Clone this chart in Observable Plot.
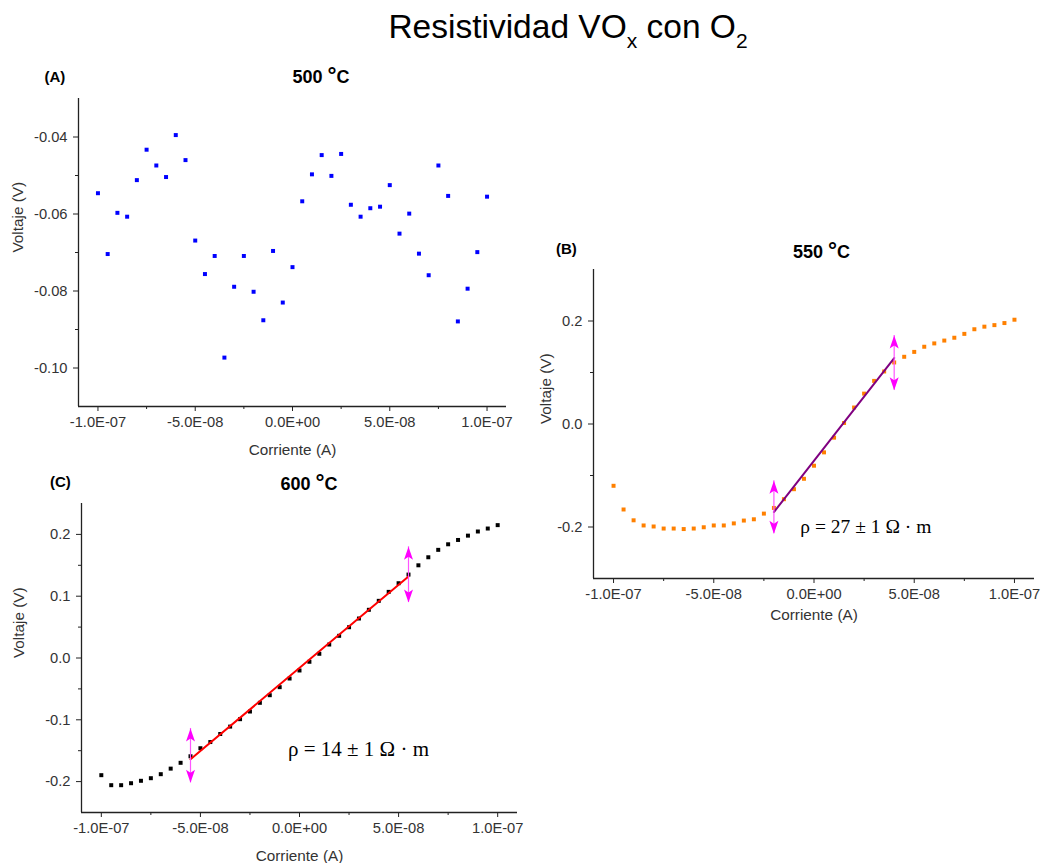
<!DOCTYPE html>
<html><head><meta charset="utf-8">
<script src="https://cdn.jsdelivr.net/npm/d3@7"></script>
<script src="https://cdn.jsdelivr.net/npm/@observablehq/plot@0.6"></script>
<style>
body{margin:0;background:#fff;}
#page{position:relative;width:1045px;height:863px;background:#fff;font-family:"Liberation Sans",Arial,sans-serif;overflow:hidden;}
.abs{position:absolute;white-space:nowrap;line-height:1;color:#000;}
.wrap{position:absolute;}
</style></head><body><div id="page"></div>
<script>
// ---------------- DATA ----------------
const current = [-1.0e-7,-9.5e-8,-9.0e-8,-8.5e-8,-8.0e-8,-7.5e-8,-7.0e-8,-6.5e-8,-6.0e-8,-5.5e-8,-5.0e-8,-4.5e-8,-4.0e-8,-3.5e-8,-3.0e-8,-2.5e-8,-2.0e-8,-1.5e-8,-1.0e-8,-5.0e-9,0,5.0e-9,1.0e-8,1.5e-8,2.0e-8,2.5e-8,3.0e-8,3.5e-8,4.0e-8,4.5e-8,5.0e-8,5.5e-8,6.0e-8,6.5e-8,7.0e-8,7.5e-8,8.0e-8,8.5e-8,9.0e-8,9.5e-8,1.0e-7];

const voltage500 = [-0.0546,-0.0704,-0.0597,-0.0607,-0.0512,-0.0433,-0.0474,-0.0504,-0.0395,-0.0460,-0.0669,-0.0756,-0.0709,-0.0973,-0.0789,-0.0709,-0.0802,-0.0876,-0.0696,-0.0830,-0.0738,-0.0567,-0.0497,-0.0447,-0.0501,-0.0444,-0.0576,-0.0607,-0.0585,-0.0581,-0.0525,-0.0651,-0.0599,-0.0703,-0.0759,-0.0474,-0.0553,-0.0879,-0.0794,-0.0699,-0.0555];

const voltage550 = [-0.120,-0.166,-0.187,-0.197,-0.199,-0.203,-0.203,-0.204,-0.203,-0.2005,-0.197,-0.197,-0.193,-0.1875,-0.185,-0.174,-0.163,-0.146,-0.1266,-0.1064,-0.081,-0.0551,-0.0265,0.002,0.032,0.059,0.0837,0.102,0.1195,0.1305,0.140,0.150,0.1565,0.162,0.1675,0.175,0.184,0.189,0.192,0.196,0.2025];

const voltage600 = [-0.1896,-0.2058,-0.2058,-0.2026,-0.1987,-0.1945,-0.188,-0.179,-0.1696,-0.159,-0.146,-0.136,-0.123,-0.111,-0.099,-0.0866,-0.0725,-0.0602,-0.0472,-0.0332,-0.0202,-0.0061,0.0068,0.0218,0.0359,0.0498,0.0639,0.078,0.0925,0.107,0.121,0.135,0.150,0.163,0.175,0.184,0.191,0.198,0.2047,0.2095,0.215];

// linear fits (endpoints of fitted range)
const fitCurrent550 = [-2.0e-8, 4.0e-8];
const fitVoltage550 = [-0.171, 0.128];
const fitCurrent600 = [-5.5e-8, 5.5e-8];
const fitVoltage600 = [-0.164, 0.132];

// range markers (double arrows)
const markCurrent550 = [-2.0e-8, 4.0e-8];
const markLow550 = [-0.213, 0.0656];
const markHigh550 = [-0.110, 0.172];
const markCurrent600 = [-5.5e-8, 5.5e-8];
const markLow600 = [-0.202, 0.090];
const markHigh600 = [-0.114, 0.180];

// annotations
const rhoText550 = "ρ = 27 ± 1 Ω · m";
const rhoAt550 = [-6.8e-9, -0.199];
const rhoText600 = "ρ = 14 ± 1 Ω · m";
const rhoAt600 = [-5.8e-9, -0.148];

// axes
const xDomain = [-1.1e-7, 1.1e-7];
const xTicks = [-1.0e-7, -5.0e-8, 0, 5.0e-8, 1.0e-7];
const xTickLabels = ["-1.0E-07", "-5.0E-08", "0.0E+00", "5.0E-08", "1.0E-07"];
const xMinorTicks = [-7.5e-8, -2.5e-8, 2.5e-8, 7.5e-8];

const yDomain500 = [-0.11, -0.03];
const yTicks500 = [-0.10, -0.08, -0.06, -0.04];
const yTickLabels500 = ["-0.10", "-0.08", "-0.06", "-0.04"];
const yMinor500 = [-0.09, -0.07, -0.05];

const yDomain550 = [-0.3, 0.3];
const yTicks550 = [-0.2, 0, 0.2];
const yTickLabels550 = ["-0.2", "0.0", "0.2"];
const yMinor550 = [-0.1, 0.1];

const yDomain600 = [-0.25, 0.25];
const yTicks600 = [-0.2, -0.1, 0, 0.1, 0.2];
const yTickLabels600 = ["-0.2", "-0.1", "0.0", "0.1", "0.2"];
const yMinor600 = [-0.15, -0.05, 0.05, 0.15];

const xLabel = "Corriente (A)";
const yLabel = "Voltaje (V)";

// ---------------- DRAWING ----------------
const page = document.getElementById("page");
const axisColor = "#222";
const textColor = "#333";
const tickFont = 14.7;
const labelFont = 15.3;

const headUp = {draw(ctx) { ctx.moveTo(0, 0); ctx.lineTo(4.5, 13); ctx.lineTo(0, 10); ctx.lineTo(-4.5, 13); ctx.closePath(); }};
const headDown = {draw(ctx) { ctx.moveTo(0, 0); ctx.lineTo(4.5, -13); ctx.lineTo(0, -10); ctx.lineTo(-4.5, -13); ctx.closePath(); }};

function fitMarks(fx, fy, color, mx, lo, hi, rhoText, rhoAt, rhoSize) {
  const fit = fx.map((c, i) => ({current: c, voltage: fy[i]}));
  const mk = mx.map((c, i) => ({current: c, lo: lo[i], hi: hi[i]}));
  return [
    Plot.line(fit, {x: "current", y: "voltage", stroke: color, strokeWidth: 2}),
    Plot.ruleX(mk, {x: "current", y1: "lo", y2: "hi", stroke: "#ff55ff", strokeWidth: 1.2}),
    Plot.dot(mk, {x: "current", y: "hi", symbol: headUp, fill: "#ff00ff", stroke: "none"}),
    Plot.dot(mk, {x: "current", y: "lo", symbol: headDown, fill: "#ff00ff", stroke: "none"}),
    Plot.text([rhoText], {x: () => rhoAt[0], y: () => rhoAt[1], text: d => d, textAnchor: "start", lineAnchor: "middle",
      fontFamily: "Liberation Serif, Times New Roman, serif", fontSize: rhoSize, fill: "#000"})
  ];
}

function panel(o) {
  const rows = current.map((c, i) => ({current: c, voltage: o.voltage[i]}));
  const svg = Plot.plot({
    width: o.width, height: o.height,
    marginLeft: o.ml, marginRight: o.mr, marginTop: o.mt, marginBottom: o.mb,
    x: {domain: xDomain, label: null},
    y: {domain: o.yDomain, label: null},
    style: {fontFamily: "Liberation Sans, Arial, sans-serif", fontSize: tickFont + "px", color: textColor, background: "transparent", overflow: "visible"},
    marks: [
      Plot.axisX(xTicks, {tickSize: 5, tickPadding: 5, tickFormat: d => xTickLabels[xTicks.indexOf(d)], label: null, fontSize: tickFont, fill: textColor, stroke: axisColor}),
      Plot.axisX(xMinorTicks, {tickSize: 3, tickFormat: () => "", label: null, stroke: axisColor}),
      Plot.axisY(o.yTicks, {tickSize: 5, tickPadding: 6, tickFormat: d => o.yTickLabels[o.yTicks.indexOf(d)], label: null, fontSize: tickFont, fill: textColor, stroke: axisColor}),
      Plot.axisY(o.yMinor, {tickSize: 3, tickFormat: () => "", label: null, stroke: axisColor}),
      Plot.ruleX([xDomain[0]], {stroke: axisColor, strokeWidth: 1.3}),
      Plot.ruleY([o.yDomain[0]], {stroke: axisColor, strokeWidth: 1.3}),
      Plot.text([xLabel], {frameAnchor: "bottom", dy: o.xLabelDy, lineAnchor: "bottom", fontSize: labelFont, fill: textColor}),
      Plot.text([yLabel], {frameAnchor: "left", rotate: -90, dx: o.yLabelDx, lineAnchor: "top", fontSize: labelFont, fill: textColor}),
      Plot.dot(rows, {x: "current", y: "voltage", symbol: "square", r: 2.25, fill: o.color, stroke: "none"}),
      ...(o.extra || [])
    ]
  });
  const w = document.createElement("div");
  w.className = "wrap";
  w.style.left = o.left + "px"; w.style.top = o.top + "px";
  w.style.width = o.width + "px"; w.style.height = o.height + "px";
  w.appendChild(svg);
  page.appendChild(w);
}

panel({left: 0, top: 88, width: 530, height: 378, ml: 78, mr: 24, mt: 10, mb: 60,
  voltage: voltage500, color: "#0000ff", yDomain: yDomain500, yTicks: yTicks500, yTickLabels: yTickLabels500, yMinor: yMinor500,
  xLabelDy: 48, yLabelDx: -66});

panel({left: 530, top: 229, width: 515, height: 400, ml: 63, mr: 11, mt: 40, mb: 51,
  voltage: voltage550, color: "#ff8000", yDomain: yDomain550, yTicks: yTicks550, yTickLabels: yTickLabels550, yMinor: yMinor550,
  xLabelDy: 41, yLabelDx: -53,
  extra: fitMarks(fitCurrent550, fitVoltage550, "#800080", markCurrent550, markLow550, markHigh550, rhoText550, rhoAt550, 19.5)});

panel({left: 0, top: 493, width: 530, height: 370, ml: 81, mr: 13, mt: 10, mb: 51,
  voltage: voltage600, color: "#000000", yDomain: yDomain600, yTicks: yTicks600, yTickLabels: yTickLabels600, yMinor: yMinor600,
  xLabelDy: 48, yLabelDx: -68,
  extra: fitMarks(fitCurrent600, fitVoltage600, "#ff0000", markCurrent600, markLow600, markHigh600, rhoText600, rhoAt600, 21)});

// ---------------- TEXT ----------------
function addText(html, {left, center, baseline, size, weight = "normal"}) {
  const d = document.createElement("div");
  d.className = "abs";
  d.style.fontSize = size + "px";
  d.style.fontWeight = weight;
  d.style.top = (baseline - 0.8465 * size) + "px";
  if (center !== undefined) { d.style.left = (center - 250) + "px"; d.style.width = "500px"; d.style.textAlign = "center"; }
  else d.style.left = left + "px";
  d.innerHTML = html;
  page.appendChild(d);
}
const sub = t => `<span style="font-size:21px;position:relative;top:10px">${t}</span>`;
const deg = `<span style="font-size:1.25em;line-height:0">°</span>`;
addText(`Resistividad VO${sub("x")} con O${sub("2")}`, {center: 568, baseline: 38.3, size: 33.5});
addText("(A)", {left: 44.5, baseline: 81.7, size: 15, weight: "bold"});
addText(`500 ${deg}C`, {center: 321, baseline: 83.3, size: 18, weight: "bold"});
addText("(B)", {left: 556, baseline: 253.3, size: 15, weight: "bold"});
addText(`550 ${deg}C`, {center: 821.5, baseline: 258.3, size: 18, weight: "bold"});
addText("(C)", {left: 50, baseline: 486.7, size: 15, weight: "bold"});
addText(`600 ${deg}C`, {center: 309, baseline: 490.7, size: 18, weight: "bold"});
</script></body></html>
